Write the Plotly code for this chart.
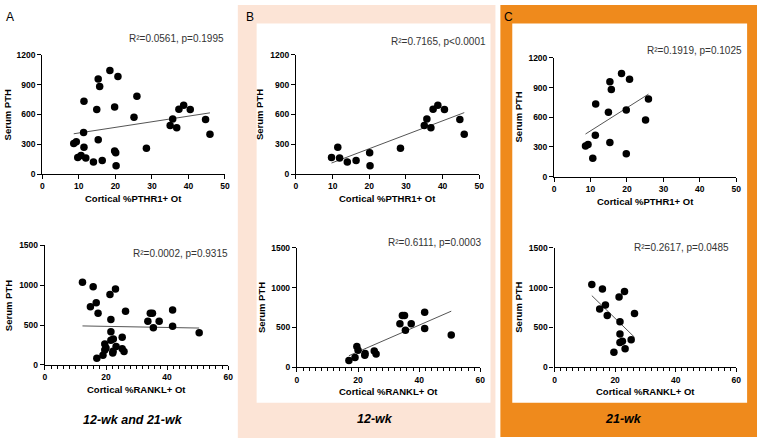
import numpy as np
import plotly.graph_objects as go

W, H = 763, 443

# ---------------- data ----------------
# 12-wk
b_pthr1 = [9.7, 11.4, 11.9, 14.0, 16.4, 20.1, 20.2, 28.5, 35.0, 35.7, 36.8, 37.4, 38.7, 40.5, 44.7, 45.9]
b_pth_top = [167, 269, 161, 121, 138, 216, 85, 259, 489, 554, 466, 652, 692, 649, 550, 402]
b_rankl = [17.0, 19.0, 19.6, 20.0, 22.2, 22.3, 25.3, 25.9, 33.7, 34.5, 35.2, 35.5, 37.4, 41.8, 41.8, 50.5]
b_pth_bot = [86, 123, 262, 213, 151, 172, 204, 168, 548, 650, 650, 466, 548, 691, 486, 405]
# 21-wk
c_pthr1 = [8.6, 9.3, 10.6, 11.4, 11.3, 14.9, 15.3, 15.7, 15.3, 18.5, 19.8, 19.8, 20.7, 25.1, 25.9]
c_pth_top = [309, 326, 187, 733, 418, 651, 957, 881, 345, 1042, 233, 674, 983, 572, 783]
c_rankl = [12.3, 15.8, 14.9, 16.8, 17.4, 19.6, 21.3, 21.6, 21.6, 21.6, 22.4, 23.1, 23.3, 25.3, 26.4]
c_pth_bot = [1038, 981, 732, 781, 650, 188, 883, 572, 417, 311, 327, 952, 233, 347, 674]
# combined
a_pthr1 = b_pthr1 + c_pthr1
a_pth_top = b_pth_top + c_pth_top
a_rankl = b_rankl + c_rankl
a_pth_bot = b_pth_bot + c_pth_bot

stats_top = ["R²=0.0561, p=0.1995", "R²=0.7165, p<0.0001", "R²=0.1919, p=0.1025"]
stats_bot = ["R²=0.0002, p=0.9315", "R²=0.6111, p=0.0003", "R²=0.2617, p=0.0485"]
panel_letters = ["A", "B", "C"]
captions = ["12-wk and 21-wk", "12-wk", "21-wk"]
xtitle_top = "Cortical %PTHR1+ Ot"
xtitle_bot = "Cortical %RANKL+ Ot"
ytitle = "Serum PTH"
top_yticks = [0, 300, 600, 900, 1200]
bot_yticks = [0, 500, 1000, 1500]
top_xticks = [0, 10, 20, 30, 40, 50]
bot_xticks = [0, 20, 40, 60]

# ---------------- layout geometry (pixels) ----------------
# (x0, x1, ytop, ybottom)
boxes = [
    (40.7, 225.0, 51, 173), (43.3, 228.3, 246, 368.3),
    (296.7, 481.7, 51, 173), (297.7, 482.7, 248.3, 370.7),
    (557.3, 741.0, 54, 175.7), (557.7, 741.0, 248.3, 370.7),
]
datasets = [
    (a_pthr1, a_pth_top), (a_rankl, a_pth_bot),
    (b_pthr1, b_pth_top), (b_rankl, b_pth_bot),
    (c_pthr1, c_pth_top), (c_rankl, c_pth_bot),
]

def px(x):
    return x / W

def py(y):
    return 1 - y / H

fig = go.Figure()
FONT = "Liberation Sans, Arial, sans-serif"

for i, ((x0, x1, yt, yb), (xs, ys)) in enumerate(zip(boxes, datasets)):
    n = i + 1
    xa = "x" if n == 1 else f"x{n}"
    ya = "y" if n == 1 else f"y{n}"
    is_top = (i % 2 == 0)
    xs = np.array(xs, float)
    ys = np.array(ys, float)
    k, b = np.polyfit(xs, ys, 1)
    lx = np.array([xs.min(), xs.max()])
    fig.add_trace(go.Scatter(x=lx, y=k * lx + b, mode="lines",
                             line=dict(color="#555555", width=1),
                             xaxis=xa, yaxis=ya, showlegend=False, hoverinfo="skip"))
    fig.add_trace(go.Scatter(x=xs, y=ys, mode="markers",
                             marker=dict(color="black", size=7.5),
                             xaxis=xa, yaxis=ya, showlegend=False, cliponaxis=False))
    axcommon = dict(showline=True, linecolor="black", linewidth=1.3, ticks="outside",
                    ticklen=4, tickwidth=1.3, tickcolor="black", showgrid=False,
                    zeroline=False,
                    tickfont=dict(family=FONT, size=8.5, color="black", weight="bold"))
    xkey = "xaxis" if n == 1 else f"xaxis{n}"
    ykey = "yaxis" if n == 1 else f"yaxis{n}"
    if is_top:
        xcfg = dict(range=[0, 50], tickvals=top_xticks)
        ycfg = dict(range=[0, 1200], tickvals=top_yticks)
    else:
        xcfg = dict(range=[0, 60], tickvals=bot_xticks,
                    minor=dict(dtick=2, ticklen=2.5, ticks="outside", tickcolor="black", tickwidth=1))
        ycfg = dict(range=[0, 1500], tickvals=bot_yticks)
    fig.layout[xkey] = dict(domain=[px(x0), px(x1)], anchor=ya, **xcfg, **axcommon)
    fig.layout[ykey] = dict(domain=[py(yb), py(yt)], anchor=xa, **ycfg, **axcommon)

# ---------------- background panels ----------------
shapes = [
    dict(type="rect", xref="paper", yref="paper", x0=px(238), x1=px(498), y0=py(443), y1=py(0),
         fillcolor="#FCE4D6", line=dict(width=0), layer="below"),
    dict(type="rect", xref="paper", yref="paper", x0=px(257), x1=px(493), y0=py(407), y1=py(19),
         fillcolor="white", line=dict(width=0), layer="below"),
    dict(type="rect", xref="paper", yref="paper", x0=px(503), x1=px(762), y0=py(442), y1=py(0),
         fillcolor="#EF8A1C", line=dict(width=0), layer="below"),
    dict(type="rect", xref="paper", yref="paper", x0=px(515), x1=px(752), y0=py(407), y1=py(19),
         fillcolor="white", line=dict(width=0), layer="below"),
]

ann = []
def text(x, y, t, size, xanchor="center", bold=False, italic=False, angle=0, color="black"):
    ann.append(dict(x=px(x), y=py(y), xref="paper", yref="paper", text=t, showarrow=False,
                    xanchor=xanchor, yanchor="middle", textangle=angle,
                    font=dict(family=FONT, size=size, color=color,
                              weight="bold" if bold else "normal",
                              style="italic" if italic else "normal")))

# panel letters
text(8, 12, panel_letters[0], 12, xanchor="center")
text(250, 12, panel_letters[1], 12, xanchor="center")
text(511, 12, panel_letters[2], 12, xanchor="center")

# stats
text(226, 34, stats_top[0], 10, xanchor="right", color="#333333")
text(491, 37, stats_top[1], 10, xanchor="right", color="#333333")
text(749, 47, stats_top[2], 10, xanchor="right", color="#333333")
text(230, 254, stats_bot[0], 10, xanchor="right", color="#333333")
text(485, 243, stats_bot[1], 10, xanchor="right", color="#333333")
text(736, 248, stats_bot[2], 10, xanchor="right", color="#333333")

# x titles
for (x0, x1, yt, yb), i in zip(boxes, range(6)):
    t = xtitle_top if i % 2 == 0 else xtitle_bot
    text((x0 + x1) / 2, yb + 25, t, 9.5, bold=True)

# y titles
ytitle_x = [6, 6, 260, 262, 521, 521]
for (x0, x1, yt, yb), yx in zip(boxes, ytitle_x):
    text(yx, (yt + yb) / 2, ytitle, 9.5, bold=True, angle=-90)

# captions
text(132, 425, captions[0], 12.5, bold=True, italic=True)
text(376, 424, captions[1], 12.5, bold=True, italic=True)
text(627, 424, captions[2], 12.5, bold=True, italic=True)

fig.update_layout(width=W, height=H, margin=dict(l=0, r=0, t=0, b=0),
                  paper_bgcolor="white", plot_bgcolor="rgba(0,0,0,0)",
                  shapes=shapes, annotations=ann, showlegend=False)

fig.write_html("out.html")
